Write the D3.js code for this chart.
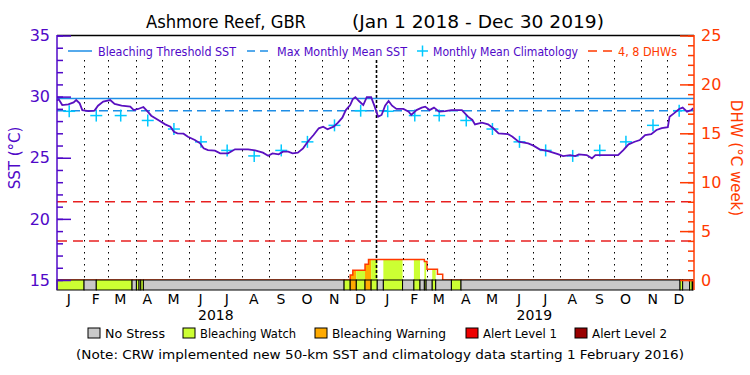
<!DOCTYPE html>
<html><head><meta charset="utf-8">
<script src="https://cdn.jsdelivr.net/npm/d3@7"></script>
<style>body{margin:0;background:#fff} text{font-family:"DejaVu Sans",sans-serif}</style>
</head><body><svg id="c" width="750" height="375"></svg>
<script>
// ---------------- data ----------------
const startDate = "2018-01-01";
const endDate = "2020-01-01";
// SST (days since 2018-01-01, value °C)
const sstDays = [0,2,6,13,19,22,26,29,36,43, 47,53,61,66,74,84,88,93,99,104,
  108,116,124,130,134,138,145,150,158,164, 168,173,181,187,196,204,219,227,236,242,
  247,254,259,265,270,276,282,288,294,300, 305,310,317,322,327,331,336,339,342,346,
  351,355,360,364,
  368,372,376,380,384,389,397,403,406,412, 418,422,427,432,438,445,452,464,471,476,
  479,487,494,500,506,517,522,529,540,546, 553,563,574,580,588,594,598,607,613,617,
  628,643,649,655,662,668,674,681,687,693, 700,702,707,713,717,722,727,729];
const sstValues = [29.67,29.78,29.31,29.37,29.53,29.72,29.45,28.9,28.82,28.86,
  29.26,29.59,29.72,29.4,29.26,29.18,28.9,28.99,29.15,28.77,
  28.44,28.09,27.73,27.54,27.13,26.99,26.97,26.72,26.45,26.18,
  25.77,25.63,25.58,25.36,25.36,25.69,25.69,25.6,25.42,25.17,
  25.36,25.28,25.5,25.5,25.36,25.42,25.77,26.37,26.86,27.41,
  27.54,27.33,27.54,27.87,28.28,28.9,29.31,29.8,29.95,29.64,
  29.31,29.95,29.95,29.2,
  28.36,28.5,29.26,29.64,29.26,28.99,28.99,28.77,28.5,28.9,
  29.1,29.18,28.9,29.1,28.77,28.82,28.9,28.9,28.36,28.09,
  27.73,27.87,27.73,27.41,26.99,26.93,26.72,26.31,26.18,25.99,
  25.69,25.55,25.3,25.14,25.22,25.14,25.28,25.22,24.95,25.22,
  25.22,25.22,25.63,26.1,26.31,26.45,26.86,26.93,27.27,27.43,
  27.5,28.36,28.63,28.99,29.1,28.77,28.9,29.05];
// monthly mean climatology (Jan..Dec)
const climValues = [28.8,28.45,28.45,28.05,27.35,26.3,25.6,25.15,25.6,26.3,27.65,28.85];
const bleachingThreshold = 29.85;
const maxMonthlyMean = 28.85;
const dhwLevels = [4, 8];
// DHW step series
const dhwDays = [0,336,339,353,357,421,424,436,442,729];
const dhwValues = [0,0.5,1.0,1.6,2.1,1.9,1.1,0.6,0,0];
// stress level segments (start day, level)
const stressDays = [0,31,45,86,91,94,96,99,329,336,343,353,360,367,374,396,409,416,421,423,430,434,452,463,714,717,725,728];
const stressLevels = [1,0,1,0,1,0,1,0,1,2,1,2,1,0,1,0,1,0,1,0,1,0,1,0,1,0,1,0];
const stressEnd = 729;
const monthLabels = ["J","F","M","A","M","J","J","A","S","O","N","D"];
const yearLabels = ["2018","2019"];
const sstTicks = [15,20,25,30,35];
const dhwTicks = [0,5,10,15,20,25];
const stressNames = ["No Stress","Bleaching Watch","Bleaching Warning","Alert Level 1","Alert Level 2"];
const stressColors = ["#c8c8c8","#ccff33","#ffaa00","#ee0000","#990000"];

// ---------------- drawing ----------------
const purple = "#5008c8", orange = "#ff3a00", blue = "#1e8ee6", cyan = "#00c8ff";
const svg = d3.select("#c");
const t0 = d3.utcParse("%Y-%m-%d")(startDate), t1 = d3.utcParse("%Y-%m-%d")(endDate);
const day = d => d3.utcDay.offset(t0, d);
const x = d3.scaleUtc().domain([t0, t1]).range([57, 694]);
const yS = d3.scaleLinear().domain([15, 35]).range([280, 35.5]);
const yD = d3.scaleLinear().domain([0, 25]).range([280, 35.5]);
const barTop = 280, barBot = 290;

// DHW area fill by stress colour
const dhwPts = dhwDays.map((d, i) => [day(d), dhwValues[i]]);
const area = d3.area().curve(d3.curveStepAfter).x(d => x(d[0])).y0(yD(0)).y1(d => yD(d[1]));
svg.append("clipPath").attr("id", "dhwclip").append("path").attr("d", area(dhwPts));
const segs = stressDays.map((d, i) => ({s: d, e: i < stressDays.length - 1 ? stressDays[i + 1] : stressEnd, l: stressLevels[i]}));
svg.append("g").attr("clip-path", "url(#dhwclip)").selectAll("rect").data(segs.filter(s => s.l > 0)).join("rect")
  .attr("x", d => x(day(d.s))).attr("width", d => x(day(d.e)) - x(day(d.s)))
  .attr("y", 35).attr("height", barTop - 35).attr("fill", d => stressColors[d.l]);
svg.append("path").attr("d", d3.line().curve(d3.curveStepAfter).x(d => x(d[0])).y(d => yD(d[1]))(dhwPts))
  .attr("fill", "none").attr("stroke", orange).attr("stroke-width", 1.5);

// monthly dotted gridlines
const months = d3.utcMonth.range(d3.utcMonth.offset(t0, 1), t1);
svg.append("g").selectAll("line").data(months).join("line")
  .attr("x1", d => Math.round(x(d)) + 0.5).attr("x2", d => Math.round(x(d)) + 0.5)
  .attr("y1", 60).attr("y2", barTop)
  .attr("stroke", "#000")
  .attr("stroke-width", d => d.getUTCMonth() === 0 ? 1.6 : 1)
  .attr("stroke-dasharray", d => d.getUTCMonth() === 0 ? "3,2" : "1.5,4.5");

// DHW reference lines
svg.append("g").selectAll("line").data(dhwLevels).join("line")
  .attr("x1", 57).attr("x2", 694).attr("y1", d => yD(d)).attr("y2", d => yD(d))
  .attr("stroke", "#e82020").attr("stroke-width", 1.5).attr("stroke-dasharray", "10,6");

// threshold + MMM
svg.append("line").attr("x1", 57).attr("x2", 694).attr("y1", yS(bleachingThreshold)).attr("y2", yS(bleachingThreshold))
  .attr("stroke", blue).attr("stroke-width", 1.5);
svg.append("line").attr("x1", 57).attr("x2", 694).attr("y1", yS(maxMonthlyMean)).attr("y2", yS(maxMonthlyMean))
  .attr("stroke", blue).attr("stroke-width", 1.5).attr("stroke-dasharray", "9,5");

// climatology markers (mid-month, both years)
const climPts = [];
[0, 1].forEach(yr => climValues.forEach((v, m) => climPts.push([d3.utcDay.offset(d3.utcMonth.offset(t0, yr * 12 + m), 14), v])));
const cp = svg.append("g").selectAll("g").data(climPts).join("g")
  .attr("transform", d => `translate(${x(d[0])},${yS(d[1])})`);
cp.append("line").attr("x1", -6).attr("x2", 6).attr("stroke", cyan).attr("stroke-width", 1.5);
cp.append("line").attr("y1", -6).attr("y2", 6).attr("stroke", cyan).attr("stroke-width", 1.5);

// SST line
const sstPts = sstDays.map((d, i) => [day(d), sstValues[i]]);
svg.append("path").attr("d", d3.line().x(d => x(d[0])).y(d => yS(d[1]))(sstPts))
  .attr("fill", "none").attr("stroke", "#5a10c0").attr("stroke-width", 1.8);

// stress bar
svg.append("g").selectAll("rect").data(segs).join("rect")
  .attr("x", d => x(day(d.s))).attr("width", d => x(day(d.e)) - x(day(d.s)))
  .attr("y", barTop).attr("height", barBot - barTop)
  .attr("fill", d => stressColors[d.l]).attr("stroke", "#000").attr("stroke-width", 1);

// frame
svg.append("line").attr("x1", 57).attr("x2", 694).attr("y1", 35.5).attr("y2", 35.5).attr("stroke", "#000").attr("stroke-width", 1.5);

// left axis
const gl = svg.append("g").attr("transform", "translate(57,0)");
gl.call(d3.axisLeft(yS).tickValues(d3.range(15, 36)).tickSizeInner(-6).tickSizeOuter(0).tickFormat(""));
gl.select(".domain").remove();
const gl2 = svg.append("g").attr("transform", "translate(57,0)")
  .call(d3.axisLeft(yS).tickValues(sstTicks).tickSizeInner(-14).tickSizeOuter(0).tickPadding(7));
gl2.select(".domain").remove();
[gl, gl2].forEach(g => { g.selectAll("line").attr("stroke", purple).attr("stroke-width", 1.5); g.selectAll("text").attr("fill", purple).attr("font-size", 16).attr("font-family", "DejaVu Sans"); });
svg.append("line").attr("x1", 57).attr("x2", 57).attr("y1", 35).attr("y2", barBot).attr("stroke", purple).attr("stroke-width", 1.5);

// right axis
const gr = svg.append("g").attr("transform", "translate(694,0)");
gr.call(d3.axisRight(yD).tickValues(d3.range(0, 26)).tickSizeInner(-6).tickSizeOuter(0).tickFormat(""));
gr.select(".domain").remove();
const gr2 = svg.append("g").attr("transform", "translate(694,0)")
  .call(d3.axisRight(yD).tickValues(dhwTicks).tickSizeInner(-14).tickSizeOuter(0).tickPadding(7));
gr2.select(".domain").remove();
[gr, gr2].forEach(g => { g.selectAll("line").attr("stroke", orange).attr("stroke-width", 1.5); g.selectAll("text").attr("fill", orange).attr("font-size", 16).attr("font-family", "DejaVu Sans"); });
svg.append("line").attr("x1", 694).attr("x2", 694).attr("y1", 35).attr("y2", barBot).attr("stroke", orange).attr("stroke-width", 1.5);

// bottom month axis
const mids = d3.utcMonth.range(t0, t1).map(d => d3.utcDay.offset(d, 13));
const gb = svg.append("g").attr("transform", `translate(0,${barBot})`)
  .call(d3.axisBottom(x).tickValues(mids).tickSize(0).tickPadding(4).tickFormat(d => monthLabels[d.getUTCMonth()]));
gb.select(".domain").remove();
gb.selectAll("text").attr("font-size", 14).attr("fill", "#000").attr("font-family", "DejaVu Sans");
yearLabels.forEach((yl, i) => {
  svg.append("text").attr("x", x(d3.utcDay.offset(t0, 182 + i * 365))).attr("y", 320)
    .attr("text-anchor", "middle").attr("font-size", 14).text(yl);
});

// axis titles
svg.append("text").attr("transform", "translate(20,158) rotate(-90)").attr("text-anchor", "middle")
  .attr("font-size", 15).attr("fill", purple).text("SST (°C)");
svg.append("text").attr("transform", "translate(731,158) rotate(90)").attr("text-anchor", "middle")
  .attr("font-size", 15).attr("fill", orange).text("DHW (°C week)");

// title
svg.append("text").attr("x", 146).attr("y", 28).attr("font-size", 17).attr("textLength", 160).attr("lengthAdjust", "spacingAndGlyphs").text("Ashmore Reef, GBR");
svg.append("text").attr("x", 352).attr("y", 28).attr("font-size", 17).attr("textLength", 252).attr("lengthAdjust", "spacingAndGlyphs").text("(Jan 1 2018 - Dec 30 2019)");

// top legend
const ly = 51;
svg.append("line").attr("x1", 68).attr("x2", 92).attr("y1", ly).attr("y2", ly).attr("stroke", blue).attr("stroke-width", 1.5);
svg.append("text").attr("x", 98).attr("y", ly + 4.5).attr("font-size", 12).attr("fill", purple).attr("textLength", 138).attr("lengthAdjust", "spacingAndGlyphs").text("Bleaching Threshold SST");
svg.append("line").attr("x1", 247).attr("x2", 268).attr("y1", ly).attr("y2", ly).attr("stroke", blue).attr("stroke-width", 1.5).attr("stroke-dasharray", "8,5");
svg.append("text").attr("x", 277).attr("y", ly + 4.5).attr("font-size", 12).attr("fill", purple).attr("textLength", 130).attr("lengthAdjust", "spacingAndGlyphs").text("Max Monthly Mean SST");
svg.append("line").attr("x1", 417).attr("x2", 428).attr("y1", ly).attr("y2", ly).attr("stroke", cyan).attr("stroke-width", 1.5);
svg.append("line").attr("x1", 422.5).attr("x2", 422.5).attr("y1", ly - 5.5).attr("y2", ly + 5.5).attr("stroke", cyan).attr("stroke-width", 1.5);
svg.append("text").attr("x", 433).attr("y", ly + 4.5).attr("font-size", 12).attr("fill", purple).attr("textLength", 145).attr("lengthAdjust", "spacingAndGlyphs").text("Monthly Mean Climatology");
svg.append("line").attr("x1", 588).attr("x2", 612).attr("y1", ly).attr("y2", ly).attr("stroke", orange).attr("stroke-width", 1.5).attr("stroke-dasharray", "9,6");
svg.append("text").attr("x", 618).attr("y", ly + 4.5).attr("font-size", 12).attr("fill", orange).attr("textLength", 59).attr("lengthAdjust", "spacingAndGlyphs").text("4, 8 DHWs");

// bottom legend
const legX = [88, 183, 315, 466, 575];
const legW = [60, 96, 114, 74, 75];
stressNames.forEach((n, i) => {
  svg.append("rect").attr("x", legX[i]).attr("y", 328).attr("width", 12).attr("height", 10)
    .attr("fill", stressColors[i]).attr("stroke", "#000").attr("stroke-width", 1);
  svg.append("text").attr("x", legX[i] + 17).attr("y", 338).attr("font-size", 12)
    .attr("textLength", legW[i]).attr("lengthAdjust", "spacingAndGlyphs").text(n);
});
svg.append("text").attr("x", 76).attr("y", 359).attr("font-size", 13).attr("textLength", 608).attr("lengthAdjust", "spacingAndGlyphs")
  .text("(Note: CRW implemented new 50-km SST and climatology data starting 1 February 2016)");
</script></body></html>
